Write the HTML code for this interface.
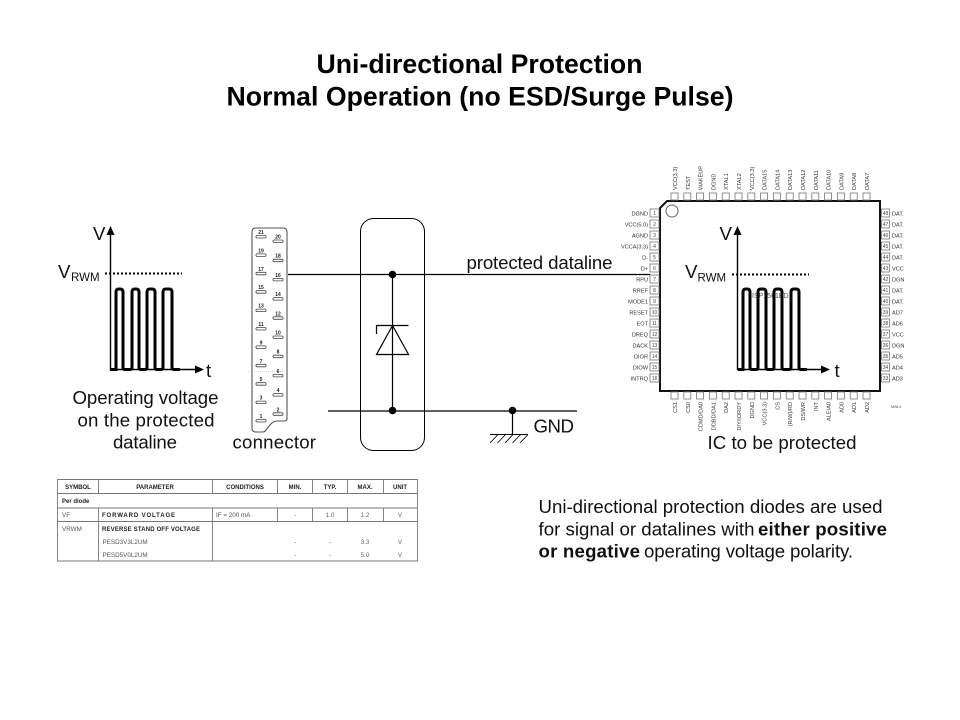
<!DOCTYPE html>
<html><head><meta charset="utf-8"><style>
html,body{margin:0;padding:0;background:#fff}
svg{display:block}
text{font-family:"Liberation Sans",Arial,sans-serif;fill:#111}
.t{font-size:26.67px;font-weight:bold;fill:#000}
.l{font-size:18.67px}
.v{font-size:18.67px}
.s{font-size:11.5px}
.p{font-size:5.6px;fill:#333}
.n{font-size:5px;text-anchor:middle;fill:#444}
.b{fill:#fff;stroke:#777;stroke-width:.8}
.k{font-size:5px;font-weight:bold;text-anchor:middle;fill:#222}
.q{fill:#fff;stroke:#444;stroke-width:.8}
.h{font-size:6px;font-weight:bold;text-anchor:middle;fill:#222}
.d{font-size:6.3px;fill:#555}
.e{font-size:6.3px;text-anchor:middle;fill:#666}
</style></head><body>
<svg width="960" height="720" viewBox="0 0 960 720" xmlns="http://www.w3.org/2000/svg">
<rect width="960" height="720" fill="#fff"/>
<text class="t" x="316.500" y="73" textLength="326" lengthAdjust="spacing">Uni-directional Protection</text>
<text class="t" x="226.500" y="105.500" textLength="507" lengthAdjust="spacing">Normal Operation (no ESD/Surge Pulse)</text>

<!-- IC -->
<path d="M667 201H880V391H660V208Z" fill="#fff" stroke="#111" stroke-width="2"/>
<circle cx="672" cy="211" r="6" fill="none" stroke="#666" stroke-width="1"/>
<g>
<rect class="b" x="650" y="209" width="9" height="8"/><text class="n" x="654.500" y="215">1</text>
<rect class="b" x="650" y="220" width="9" height="8"/><text class="n" x="654.500" y="226">2</text>
<rect class="b" x="650" y="231" width="9" height="8"/><text class="n" x="654.500" y="237">3</text>
<rect class="b" x="650" y="242" width="9" height="8"/><text class="n" x="654.500" y="248">4</text>
<rect class="b" x="650" y="253" width="9" height="8"/><text class="n" x="654.500" y="259">5</text>
<rect class="b" x="650" y="264" width="9" height="8"/><text class="n" x="654.500" y="270">6</text>
<rect class="b" x="650" y="275" width="9" height="8"/><text class="n" x="654.500" y="281">7</text>
<rect class="b" x="650" y="286" width="9" height="8"/><text class="n" x="654.500" y="292">8</text>
<rect class="b" x="650" y="297" width="9" height="8"/><text class="n" x="654.500" y="303">9</text>
<rect class="b" x="650" y="308" width="9" height="8"/><text class="n" x="654.500" y="314">10</text>
<rect class="b" x="650" y="319" width="9" height="8"/><text class="n" x="654.500" y="325">11</text>
<rect class="b" x="650" y="330" width="9" height="8"/><text class="n" x="654.500" y="336">12</text>
<rect class="b" x="650" y="341" width="9" height="8"/><text class="n" x="654.500" y="347">13</text>
<rect class="b" x="650" y="352" width="9" height="8"/><text class="n" x="654.500" y="358">14</text>
<rect class="b" x="650" y="363" width="9" height="8"/><text class="n" x="654.500" y="369">15</text>
<rect class="b" x="650" y="374" width="9" height="8"/><text class="n" x="654.500" y="380">16</text>
</g>
<g text-anchor="end">
<text class="p" x="648" y="215.500">DGND</text>
<text class="p" x="648" y="226.500">VCC(5.0)</text>
<text class="p" x="648" y="237.500">AGND</text>
<text class="p" x="648" y="248.500">VCCA(3.3)</text>
<text class="p" x="648" y="259.500">D-</text>
<text class="p" x="648" y="270.500">D+</text>
<text class="p" x="648" y="281.500">RPU</text>
<text class="p" x="648" y="292.500">RREF</text>
<text class="p" x="648" y="303.500">MODE1</text>
<text class="p" x="648" y="314.500">RESET</text>
<text class="p" x="648" y="325.500">EOT</text>
<text class="p" x="648" y="336.500">DREQ</text>
<text class="p" x="648" y="347.500">DACK</text>
<text class="p" x="648" y="358.500">DIOR</text>
<text class="p" x="648" y="369.500">DIOW</text>
<text class="p" x="648" y="380.500">INTRQ</text>
</g>
<g>
<rect class="b" x="881.500" y="209" width="8" height="8"/><text class="n" x="885.500" y="215">48</text>
<rect class="b" x="881.500" y="220" width="8" height="8"/><text class="n" x="885.500" y="226">47</text>
<rect class="b" x="881.500" y="231" width="8" height="8"/><text class="n" x="885.500" y="237">46</text>
<rect class="b" x="881.500" y="242" width="8" height="8"/><text class="n" x="885.500" y="248">45</text>
<rect class="b" x="881.500" y="253" width="8" height="8"/><text class="n" x="885.500" y="259">44</text>
<rect class="b" x="881.500" y="264" width="8" height="8"/><text class="n" x="885.500" y="270">43</text>
<rect class="b" x="881.500" y="275" width="8" height="8"/><text class="n" x="885.500" y="281">42</text>
<rect class="b" x="881.500" y="286" width="8" height="8"/><text class="n" x="885.500" y="292">41</text>
<rect class="b" x="881.500" y="297" width="8" height="8"/><text class="n" x="885.500" y="303">40</text>
<rect class="b" x="881.500" y="308" width="8" height="8"/><text class="n" x="885.500" y="314">39</text>
<rect class="b" x="881.500" y="319" width="8" height="8"/><text class="n" x="885.500" y="325">38</text>
<rect class="b" x="881.500" y="330" width="8" height="8"/><text class="n" x="885.500" y="336">37</text>
<rect class="b" x="881.500" y="341" width="8" height="8"/><text class="n" x="885.500" y="347">36</text>
<rect class="b" x="881.500" y="352" width="8" height="8"/><text class="n" x="885.500" y="358">35</text>
<rect class="b" x="881.500" y="363" width="8" height="8"/><text class="n" x="885.500" y="369">34</text>
<rect class="b" x="881.500" y="374" width="8" height="8"/><text class="n" x="885.500" y="380">33</text>
</g>
<g>
<text class="p" x="892" y="215.500">DAT.</text>
<text class="p" x="892" y="226.500">DAT.</text>
<text class="p" x="892" y="237.500">DAT.</text>
<text class="p" x="892" y="248.500">DAT.</text>
<text class="p" x="892" y="259.500">DAT.</text>
<text class="p" x="892" y="270.500">VCC</text>
<text class="p" x="892" y="281.500">DGN</text>
<text class="p" x="892" y="292.500">DAT.</text>
<text class="p" x="892" y="303.500">DAT.</text>
<text class="p" x="892" y="314.500">AD7</text>
<text class="p" x="892" y="325.500">AD6</text>
<text class="p" x="892" y="336.500">VCC</text>
<text class="p" x="892" y="347.500">DGN</text>
<text class="p" x="892" y="358.500">AD5</text>
<text class="p" x="892" y="369.500">AD4</text>
<text class="p" x="892" y="380.500">AD3</text>
<text x="891" y="408" style="font-size:4px;fill:#555">MBL/r</text>
</g>
<!-- top pins -->
<g>
<rect class="b" x="671" y="193" width="7" height="7"/><rect class="b" x="683.800" y="193" width="7" height="7"/><rect class="b" x="696.600" y="193" width="7" height="7"/><rect class="b" x="709.400" y="193" width="7" height="7"/><rect class="b" x="722.200" y="193" width="7" height="7"/><rect class="b" x="735" y="193" width="7" height="7"/><rect class="b" x="747.800" y="193" width="7" height="7"/><rect class="b" x="760.600" y="193" width="7" height="7"/><rect class="b" x="773.400" y="193" width="7" height="7"/><rect class="b" x="786.200" y="193" width="7" height="7"/><rect class="b" x="799" y="193" width="7" height="7"/><rect class="b" x="811.800" y="193" width="7" height="7"/><rect class="b" x="824.600" y="193" width="7" height="7"/><rect class="b" x="837.400" y="193" width="7" height="7"/><rect class="b" x="850.200" y="193" width="7" height="7"/><rect class="b" x="863" y="193" width="7" height="7"/>
</g>
<g>
<text class="p" transform="translate(677,190) rotate(-90)">VCC(3.3)</text>
<text class="p" transform="translate(689.800,190) rotate(-90)">TEST</text>
<text class="p" transform="translate(702.600,190) rotate(-90)">WAKEUP</text>
<text class="p" transform="translate(715.400,190) rotate(-90)">DGND</text>
<text class="p" transform="translate(728.200,190) rotate(-90)">XTAL1</text>
<text class="p" transform="translate(741,190) rotate(-90)">XTAL2</text>
<text class="p" transform="translate(753.800,190) rotate(-90)">VCC(3.3)</text>
<text class="p" transform="translate(766.600,190) rotate(-90)">DATA15</text>
<text class="p" transform="translate(779.400,190) rotate(-90)">DATA14</text>
<text class="p" transform="translate(792.200,190) rotate(-90)">DATA13</text>
<text class="p" transform="translate(805,190) rotate(-90)">DATA12</text>
<text class="p" transform="translate(817.800,190) rotate(-90)">DATA11</text>
<text class="p" transform="translate(830.600,190) rotate(-90)">DATA10</text>
<text class="p" transform="translate(843.400,190) rotate(-90)">DATA9</text>
<text class="p" transform="translate(856.200,190) rotate(-90)">DATA8</text>
<text class="p" transform="translate(869,190) rotate(-90)">DATA7</text>
</g>
<!-- bottom pins -->
<g>
<rect class="b" x="671" y="392" width="7" height="7"/><rect class="b" x="683.800" y="392" width="7" height="7"/><rect class="b" x="696.600" y="392" width="7" height="7"/><rect class="b" x="709.400" y="392" width="7" height="7"/><rect class="b" x="722.200" y="392" width="7" height="7"/><rect class="b" x="735" y="392" width="7" height="7"/><rect class="b" x="747.800" y="392" width="7" height="7"/><rect class="b" x="760.600" y="392" width="7" height="7"/><rect class="b" x="773.400" y="392" width="7" height="7"/><rect class="b" x="786.200" y="392" width="7" height="7"/><rect class="b" x="799" y="392" width="7" height="7"/><rect class="b" x="811.800" y="392" width="7" height="7"/><rect class="b" x="824.600" y="392" width="7" height="7"/><rect class="b" x="837.400" y="392" width="7" height="7"/><rect class="b" x="850.200" y="392" width="7" height="7"/><rect class="b" x="863" y="392" width="7" height="7"/>
</g>
<g>
<text class="p" text-anchor="end" transform="translate(677,402) rotate(-90)">CS1</text>
<text class="p" text-anchor="end" transform="translate(689.800,402) rotate(-90)">CS0</text>
<text class="p" text-anchor="end" transform="translate(702.600,402) rotate(-90)">CDMD/DA0</text>
<text class="p" text-anchor="end" transform="translate(715.400,402) rotate(-90)">DDBD/DA1</text>
<text class="p" text-anchor="end" transform="translate(728.200,402) rotate(-90)">DA2</text>
<text class="p" text-anchor="end" transform="translate(741,402) rotate(-90)">DIY/IORDY</text>
<text class="p" text-anchor="end" transform="translate(753.800,402) rotate(-90)">DGND</text>
<text class="p" text-anchor="end" transform="translate(766.600,402) rotate(-90)">VCC(3.3)</text>
<text class="p" text-anchor="end" transform="translate(779.400,402) rotate(-90)">CS</text>
<text class="p" text-anchor="end" transform="translate(792.200,402) rotate(-90)">(R/W)/RD</text>
<text class="p" text-anchor="end" transform="translate(805,402) rotate(-90)">DS/WR</text>
<text class="p" text-anchor="end" transform="translate(817.800,402) rotate(-90)">INT</text>
<text class="p" text-anchor="end" transform="translate(830.600,402) rotate(-90)">ALE/A0</text>
<text class="p" text-anchor="end" transform="translate(843.400,402) rotate(-90)">AD0</text>
<text class="p" text-anchor="end" transform="translate(856.200,402) rotate(-90)">AD1</text>
<text class="p" text-anchor="end" transform="translate(869,402) rotate(-90)">AD2</text>
</g>
<text x="752" y="298" style="font-size:7px;fill:#555">ISP1561BD</text>

<!-- left chart -->
<path d="M110.500 234V369.500H195" fill="none" stroke="#000" stroke-width="1.400"/>
<path d="M110.500 226L106.500 235H114.500Z M204 369.500L195 365.500V373.500Z"/>
<path d="M105 273.500H182" fill="none" stroke="#000" stroke-width="2" stroke-dasharray="2 2"/>
<path d="M110 369.500H116V292Q116 289 119 289H120Q123 289 123 292V367Q123 369.500 125 369.500H130Q132 369.500 132 367V292Q132 289 135 289H136Q139 289 139 292V367Q139 369.500 141 369.500H145Q147 369.500 147 367V292Q147 289 150 289H152Q155 289 155 292V367Q155 369.500 157 369.500H161Q163 369.500 163 367V292Q163 289 166 289H169Q172 289 172 292V367Q172 369.500 174 369.500H180" fill="none" stroke="#000" stroke-width="3"/>
<text class="v" x="93" y="240">V</text>
<text class="v" x="58" y="278">V</text><text class="s" x="71" y="281">RWM</text>
<text class="v" x="206" y="377">t</text>
<text class="l" x="72.500" y="404" textLength="146" lengthAdjust="spacing">Operating voltage</text>
<text class="l" x="77.500" y="426.500" textLength="137" lengthAdjust="spacing">on the protected</text>
<text class="l" x="113" y="448.500" textLength="64" lengthAdjust="spacing">dataline</text>

<!-- connector -->
<path d="M252 232Q252 228 256 228H283Q287 228 287 232V419Q287 421 284 421H277Q273 421 270 425L266 430Q265 432 262 432H256Q252 432 252 428Z" fill="#fff" stroke="#555" stroke-width="1.100"/>
<path d="M248 371.500H287" stroke="#aaa" stroke-width=".6" stroke-dasharray="1 1"/>
<g>
<rect class="q" x="256" y="235.500" width="10" height="2.500" rx="1"/><text class="k" x="261" y="234">21</text>
<rect class="q" x="256" y="253.900" width="10" height="2.500" rx="1"/><text class="k" x="261" y="252.400">19</text>
<rect class="q" x="256" y="272.300" width="10" height="2.500" rx="1"/><text class="k" x="261" y="270.800">17</text>
<rect class="q" x="256" y="290.700" width="10" height="2.500" rx="1"/><text class="k" x="261" y="289.200">15</text>
<rect class="q" x="256" y="309.100" width="10" height="2.500" rx="1"/><text class="k" x="261" y="307.600">13</text>
<rect class="q" x="256" y="327.500" width="10" height="2.500" rx="1"/><text class="k" x="261" y="326">11</text>
<rect class="q" x="256" y="345.900" width="10" height="2.500" rx="1"/><text class="k" x="261" y="344.400">9</text>
<rect class="q" x="256" y="364.300" width="10" height="2.500" rx="1"/><text class="k" x="261" y="362.800">7</text>
<rect class="q" x="256" y="382.700" width="10" height="2.500" rx="1"/><text class="k" x="261" y="381.200">5</text>
<rect class="q" x="256" y="401.100" width="10" height="2.500" rx="1"/><text class="k" x="261" y="399.600">3</text>
<rect class="q" x="256" y="419.500" width="10" height="2.500" rx="1"/><text class="k" x="261" y="418">1</text>
<rect class="q" x="273" y="240" width="10" height="2.500" rx="1"/><text class="k" x="278" y="238.500">20</text>
<rect class="q" x="273" y="259.200" width="10" height="2.500" rx="1"/><text class="k" x="278" y="257.700">18</text>
<rect class="q" x="273" y="278.400" width="10" height="2.500" rx="1"/><text class="k" x="278" y="276.900">16</text>
<rect class="q" x="273" y="297.600" width="10" height="2.500" rx="1"/><text class="k" x="278" y="296.100">14</text>
<rect class="q" x="273" y="316.800" width="10" height="2.500" rx="1"/><text class="k" x="278" y="315.300">12</text>
<rect class="q" x="273" y="336" width="10" height="2.500" rx="1"/><text class="k" x="278" y="334.500">10</text>
<rect class="q" x="273" y="355.200" width="10" height="2.500" rx="1"/><text class="k" x="278" y="353.700">8</text>
<rect class="q" x="273" y="374.400" width="10" height="2.500" rx="1"/><text class="k" x="278" y="372.900">6</text>
<rect class="q" x="273" y="393.600" width="10" height="2.500" rx="1"/><text class="k" x="278" y="392.100">4</text>
<rect class="q" x="273" y="412.800" width="10" height="2.500" rx="1"/><text class="k" x="278" y="411.300">2</text>
</g>
<text class="l" x="232.500" y="448.500" textLength="83.500" lengthAdjust="spacing">connector</text>

<!-- protection device -->
<rect x="360.500" y="218.500" width="64" height="232" rx="13" fill="none" stroke="#000" stroke-width="1"/>
<path d="M288 274.500H650 M328 411H577 M392.500 274V411 M512.500 411V434" fill="none" stroke="#000" stroke-width="1.200"/>
<circle cx="392.500" cy="274.500" r="3.800"/><circle cx="392.500" cy="410.500" r="3.800"/><circle cx="512.500" cy="410.500" r="3.800"/>
<path d="M376.500 334V325.500H408.500 M392.500 325.500L376.500 354.500H408.500Z" fill="none" stroke="#000" stroke-width="1.200"/>
<path d="M490 434.500H528 M490 443L498 434.500 M497.500 443L505.500 434.500 M505 443L513 434.500 M512.500 443L520.500 434.500 M520 443L528 434.500" fill="none" stroke="#000" stroke-width=".9"/>
<text class="l" x="466.500" y="269" textLength="146" lengthAdjust="spacing">protected dataline</text>
<text class="l" x="533.500" y="432.500" textLength="40.500" lengthAdjust="spacing">GND</text>

<!-- right chart -->
<path d="M737.500 234V369.500H821" fill="none" stroke="#000" stroke-width="1.400"/>
<path d="M737.500 226L733.500 235H741.500Z M830 369.500L821 365.500V373.500Z"/>
<path d="M732 274.500H809" fill="none" stroke="#000" stroke-width="2" stroke-dasharray="2 2"/>
<path d="M738 369.500H743V292Q743 289 746 289H747Q750 289 750 292V367Q750 369.500 752 369.500H756Q758 369.500 758 367V292Q758 289 761 289H763Q766 289 766 292V367Q766 369.500 768 369.500H772Q774 369.500 774 367V292Q774 289 777 289H779Q782 289 782 292V367Q782 369.500 784 369.500H789Q791 369.500 791 367V292Q791 289 794 289H796Q799 289 799 292V367Q799 369.500 801 369.500H807" fill="none" stroke="#000" stroke-width="3"/>
<text class="v" x="719.500" y="240">V</text>
<text class="v" x="685" y="278">V</text><text class="s" x="697.500" y="281.500">RWM</text>
<text class="v" x="834.500" y="377">t</text>
<text class="l" x="707.500" y="449" textLength="149" lengthAdjust="spacing">IC to be protected</text>

<!-- table -->
<path d="M57.500 479.500H417.500V561H57.500Z M57.500 493.500H417.500 M57.500 508H417.500 M57.500 521.500H417.500 M98.500 479.500V493.500 M212.500 479.500V493.500 M277.500 479.500V493.500 M312.500 479.500V493.500 M347.500 479.500V493.500 M383.500 479.500V493.500 M98.500 508V561 M212.500 508V561 M277.500 508V521.500 M312.500 508V521.500 M347.500 508V521.500 M383.500 508V521.500" fill="none" stroke="#777" stroke-width=".9"/>
<text class="h" x="78" y="489">SYMBOL</text>
<text class="h" x="155" y="489">PARAMETER</text>
<text class="h" x="245" y="489">CONDITIONS</text>
<text class="h" x="295" y="489">MIN.</text>
<text class="h" x="330" y="489">TYP.</text>
<text class="h" x="365" y="489">MAX.</text>
<text class="h" x="400" y="489">UNIT</text>
<text class="h" x="62" y="503" style="text-anchor:start">Per diode</text>
<text class="d" x="62" y="517">VF</text>
<text class="h" x="102" y="517" style="text-anchor:start" textLength="73" lengthAdjust="spacing">FORWARD VOLTAGE</text>
<text class="d" x="216" y="517">IF = 200 mA</text>
<text class="e" x="295" y="517">-</text><text class="e" x="330" y="517">1.0</text><text class="e" x="365" y="517">1.2</text><text class="e" x="400" y="517">V</text>
<text class="d" x="62" y="531">VRWM</text>
<text class="h" x="102" y="531" style="text-anchor:start" textLength="98" lengthAdjust="spacing">REVERSE STAND OFF VOLTAGE</text>
<text class="d" x="102.500" y="544">PESD3V3L2UM</text>
<text class="e" x="295" y="544">-</text><text class="e" x="330" y="544">-</text><text class="e" x="365" y="544">3.3</text><text class="e" x="400" y="544">V</text>
<text class="d" x="102.500" y="557">PESD5V0L2UM</text>
<text class="e" x="295" y="557">-</text><text class="e" x="330" y="557">-</text><text class="e" x="365" y="557">5.0</text><text class="e" x="400" y="557">V</text>

<!-- note -->
<text class="l" x="538.500" y="513" textLength="344" lengthAdjust="spacing">Uni-directional protection diodes are used</text>
<text class="l" x="538.500" y="535.500" textLength="216" lengthAdjust="spacing">for signal or datalines with</text>
<text class="l" x="758" y="535.500" font-weight="bold" textLength="129" lengthAdjust="spacing">either positive</text>
<text class="l" x="538.500" y="557.500" font-weight="bold" textLength="101.500" lengthAdjust="spacing">or negative</text>
<text class="l" x="644" y="557.500" textLength="209" lengthAdjust="spacing">operating voltage polarity.</text>
</svg>
</body></html>
